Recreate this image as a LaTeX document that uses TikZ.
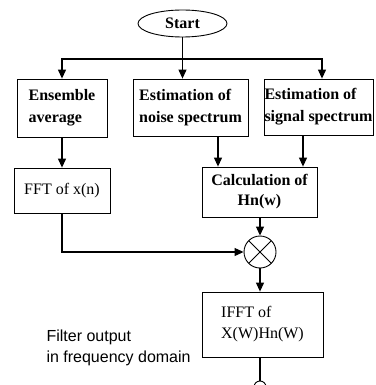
\documentclass[tikz,border=0pt]{standalone}
\usepackage{fontspec}
\setmainfont{Liberation Serif}
\newfontfamily\labelfont{Liberation Sans}
\usetikzlibrary{arrows.meta,shapes.geometric}

\tikzset{
  blk/.style={draw, line width=0.8pt, inner sep=0pt, align=left,
    font=\fontsize{16}{22}\selectfont\bfseries},
  thin blk/.style={blk, font=\fontsize{16}{21}\selectfont},
  arr/.style={line width=1.1pt, -{Triangle[length=9pt,width=8pt]}},
  ln/.style={line width=1.1pt},
}

\begin{document}
\begin{tikzpicture}[x=1pt,y=-1pt]
            \useasboundingbox (0,0) rectangle (375,385);
            \clip (0,0) rectangle (375,385);
            % top row
            \node[draw, ellipse, line width=0.9pt, minimum width=89pt, minimum height=27pt, inner sep=0pt,
              font=\fontsize{16}{18}\selectfont\bfseries] (start) at (182.5,23.5) {Start};
            \node[blk, minimum width=90pt, minimum height=58pt] (ens) at (62,108) {Ensemble\\average};
            \node[blk, minimum width=115pt, minimum height=57pt] (noise) at (190.5,107.5) {Estimation of\\noise spectrum};
            \node[blk, minimum width=109pt, minimum height=56pt] (sig) at (318.5,107) {Estimation of\\signal spectrum};
            % middle row
            \node[thin blk, minimum width=96pt, minimum height=45pt] (fftx) at (62,190.5) {FFT of x(n)};
            \node[blk, minimum width=115pt, minimum height=50pt, align=center,
              font=\fontsize{16}{20}\selectfont\bfseries] (calc) at (259.5,192) {Calculation of\\Hn(w)};
            \node[draw, circle, line width=0.9pt, minimum size=32pt, inner sep=0pt,
              path picture={\draw (path picture bounding box.north west) -- (path picture bounding box.south east)
                (path picture bounding box.north east) -- (path picture bounding box.south west);}] (mult) at (260,252) {};
            % bottom
            \node[thin blk, minimum width=121pt, minimum height=65pt] (ifft) at (262.5,324.5) {IFFT of\\X(W)Hn(W)};
            \node[anchor=west, align=left, font=\labelfont\fontsize{16}{21}\selectfont] (outlbl) at (43,347.5)
              {Filter output\\in frequency domain};
            \node[draw, circle, line width=0.9pt, minimum size=12pt, inner sep=0pt] (stop) at (260,387) {};

            \coordinate (split) at (182.5,59);
            \draw[arr] (start.south) -- (start.south |- noise.north);
            \draw[arr] (split) -| (ens.north);
            \draw[arr] (split) -| ([xshift=3.5pt]sig.north);
            \draw[arr] (ens.south) -- (ens.south |- fftx.north);
            \draw[arr] (noise.south -| 218,0) -- (218,0 |- calc.north);
            \draw[arr] (sig.south -| 303,0) -- (303,0 |- calc.north);
            \draw[arr] (fftx.south) |- (mult.west);
            \draw[arr] (calc.south -| mult.north) -- (mult.north);
            \draw[arr] (mult.south) -- (mult.south |- ifft.north);
            \draw[ln] (ifft.south -| stop.north) -- (stop.north);
        \end{tikzpicture}
\end{document}
